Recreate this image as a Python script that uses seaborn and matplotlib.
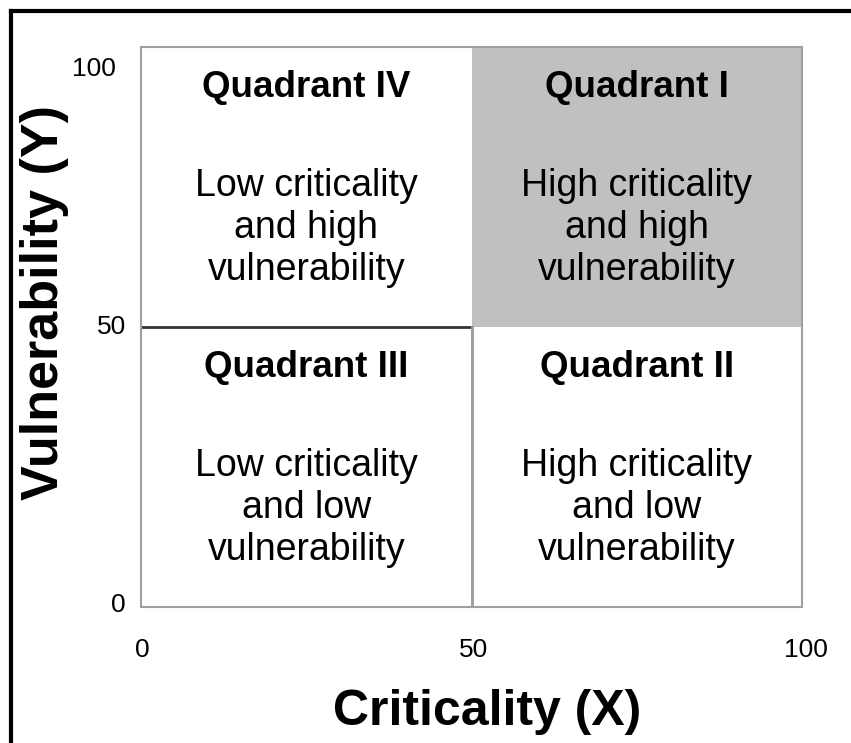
import matplotlib
matplotlib.use("Agg")
import matplotlib.pyplot as plt
import matplotlib.transforms as mtransforms
import seaborn as sns
from matplotlib.lines import Line2D

# ---- data ----
axis_ticks = [0, 50, 100]
tick_labels = ["0", "50", "100"]
x_label = "Criticality (X)"
y_label = "Vulnerability (Y)"
quad_titles = ["Quadrant I", "Quadrant II", "Quadrant III", "Quadrant IV"]
quad_bodies = [
    ["High criticality", "and high", "vulnerability"],
    ["High criticality", "and low", "vulnerability"],
    ["Low criticality", "and low", "vulnerability"],
    ["Low criticality", "and high", "vulnerability"],
]
quad_x = [75, 75, 25, 25]          # quadrant centres (criticality)
quad_y = [75, 25, 25, 75]          # quadrant centres (vulnerability)
highlight = [True, False, False, False]
threshold = 50

sns.set_style("white")
plt.rcParams["font.family"] = ["Liberation Sans", "DejaVu Sans"]
plt.rcParams["text.color"] = "black"
plt.rcParams["axes.labelcolor"] = "black"
plt.rcParams["xtick.color"] = "black"
plt.rcParams["ytick.color"] = "black"

fig = plt.figure(figsize=(8.51, 7.43), dpi=100)
ax = fig.add_axes([141/851, 1-607/743, (802-141)/851, (607-47)/743])
ax.set_xlim(axis_ticks[0], axis_ticks[-1])
ax.set_ylim(axis_ticks[0], axis_ticks[-1])

# highlighted quadrant fill
for qx, qy, h in zip(quad_x, quad_y, highlight):
    if h:
        x0 = threshold if qx > threshold else axis_ticks[0]
        x1 = axis_ticks[-1] if qx > threshold else threshold
        y0 = threshold if qy > threshold else axis_ticks[0]
        y1 = axis_ticks[-1] if qy > threshold else threshold
        ax.fill_between([x0, x1], y0, y1, color="#c0c0c0", lw=0, zorder=0)

# divider lines
sns.lineplot(x=[axis_ticks[0], threshold], y=[threshold, threshold], ax=ax,
             color="#333333", lw=2, zorder=2, estimator=None, sort=False)
sns.lineplot(x=[threshold, threshold], y=[axis_ticks[0], threshold], ax=ax,
             color="#a0a0a0", lw=2.2, zorder=2, estimator=None, sort=False)

for s in ax.spines.values():
    s.set_color("#a0a0a0")
    s.set_linewidth(1.5)

# text
for t, body, qx, qy in zip(quad_titles, quad_bodies, quad_x, quad_y):
    ax.text(qx, qy + 17.7, t, ha="center", va="center", fontsize=26.5,
            fontweight="bold", color="black")
    for i, line in enumerate(body):
        ax.text(qx, qy - 7.3 - 7.5 * (i - 1), line, ha="center", va="center",
                fontsize=27, color="black")

ax.set_xticks(axis_ticks)
ax.set_xticklabels(tick_labels, fontsize=19)
ax.set_yticks(axis_ticks)
ax.set_yticklabels(tick_labels, fontsize=19)
ax.tick_params(axis="x", length=0, pad=22)
ax.tick_params(axis="y", length=0, pad=11)

# small per-label nudges in pixels (dx right, dy down) mimicking the original
y_nudges = [(0, -5), (0, -3), (-10, 19)]
x_nudges = [(1, 0), (2, 0), (4, 0)]
for lab, (dx, dy) in zip(ax.get_yticklabels(), y_nudges):
    lab.set_transform(lab.get_transform() +
                      mtransforms.ScaledTranslation(dx / 100, -dy / 100, fig.dpi_scale_trans))
for lab, (dx, dy) in zip(ax.get_xticklabels(), x_nudges):
    lab.set_transform(lab.get_transform() +
                      mtransforms.ScaledTranslation(dx / 100, -dy / 100, fig.dpi_scale_trans))

ax.set_xlabel(x_label, fontsize=36, fontweight="bold")
ax.set_ylabel(y_label, fontsize=37.5, fontweight="bold")
ax.xaxis.label.set_va("center")
ax.yaxis.label.set_va("center")
ax.xaxis.set_label_coords((487 - 141) / 661, (607 - 712) / 560)
ax.yaxis.set_label_coords((45 - 141) / 661, (607 - 302) / 560)

# figure frame (left and top edges)
fx = 11/851
fy = 1 - 11/743
fig.add_artist(Line2D([fx, fx], [0, fy], transform=fig.transFigure,
                      color="black", lw=3, solid_capstyle="projecting"))
fig.add_artist(Line2D([fx, 1], [fy, fy], transform=fig.transFigure,
                      color="black", lw=3, solid_capstyle="projecting"))

fig.savefig("out.png", dpi=100, facecolor="white")
